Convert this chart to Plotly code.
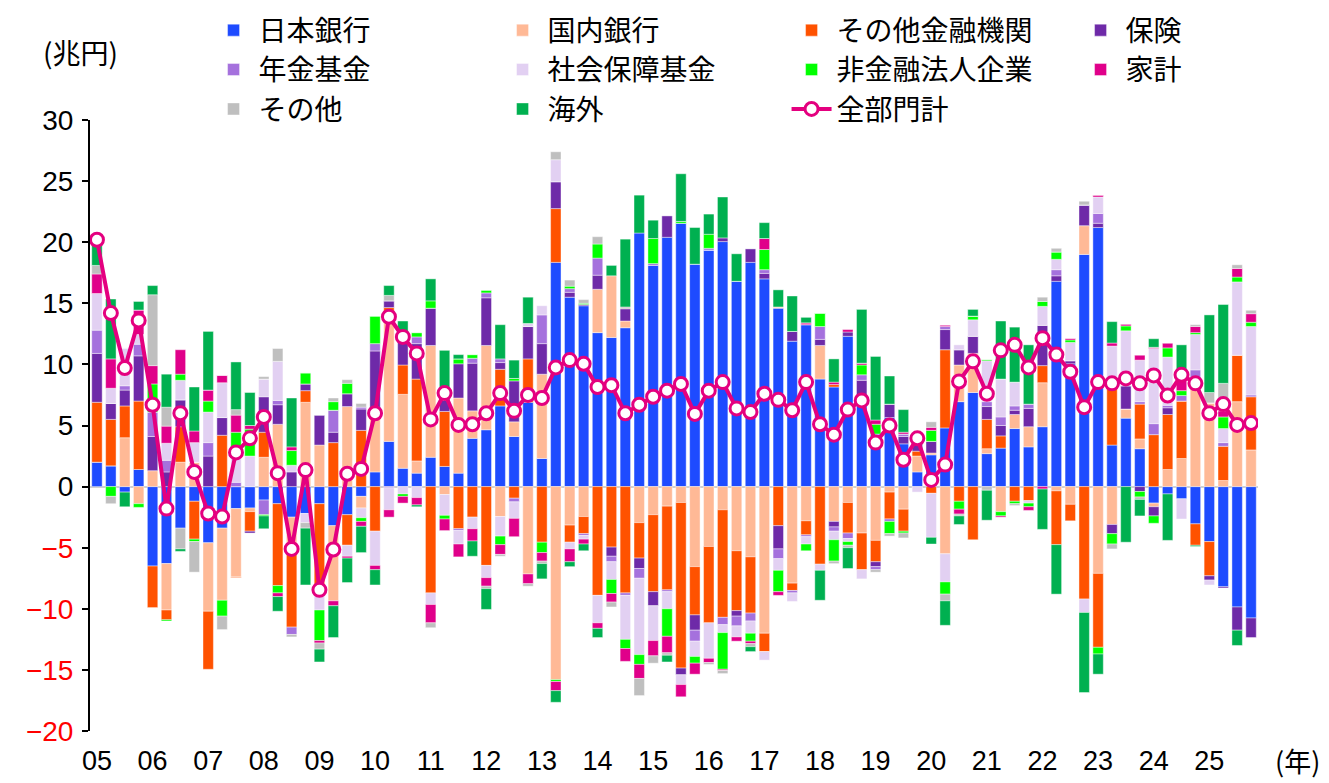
import plotly.graph_objects as go

quarters = list(range(84))  # 2005Q1 .. 2025Q4
year_ticks = list(range(0, 84, 4))
year_labels = [f"{y:02d}" for y in range(5, 26)]

boj = [2.0, 1.7, -0.45, 1.4, -6.5, -6.3, -3.4, -1.2, -4.6, -3.4, -1.8, -1.75, -1.1, -1.4,
       -2.5, -2.2, -1.4, -3.2, -2.3, -0.8, 1.2, 3.7, 1.5, 1.1, 2.4, 1.65, 1.1, 3.95,
       4.65, 6.6, 4.1, 6.9, 2.3, 18.35, 15.5, 14.8, 12.6, 12.2, 13.0, 20.75, 18.1, 20.4,
       21.55, 18.2, 19.35, 20.05, 16.8, 18.35, 17.0, 14.6, 11.9, 13.25, 8.8, 8.15, 12.3, 7.45,
       4.3, 5.65, 3.5, 1.2, 2.6, 4.8, 6.95, 7.7, 2.7, 3.15, 4.75, 3.25, 4.9, 16.8,
       10.05, 19.0, 21.2, 3.4, 5.6, 3.1, -1.35, -0.6, -1.0, -3.05, -4.5, -8.2, -9.85, -10.75]
domestic_banks = [0, 0, 4.0, -1.4, 1.3, -3.8, 2.0, 2.0, -5.6, -5.9, -5.6, -0.3, 2.4, 5.1,
       -2.2, 6.9, 3.4, -6.15, 6.55, -0.95, 4.85, 10.35, 6.05, 1.0, 9.15, -0.65, 6.15, 2.25,
       6.9, -2.45, 1.2, -7.15, 6.9, -15.8, -3.15, -2.45, 3.55, 5.05, 0.55, -2.95, -2.3, -1.6,
       -1.3, -6.55, -4.9, -1.9, -5.25, -5.75, -12.0, 0.1, -7.9, -2.8, 2.75, -2.85, -1.3, -3.8,
       -4.4, -0.45, -1.85, 1.3, 0.15, -5.5, 3.0, 3.2, 0.4, -2.05, 1.15, 1.65, 3.6, -0.35,
       -1.45, 2.35, -7.1, -3.1, 0.75, 0.8, -0.3, 1.4, 2.3, 8.25, 6.85, 0.5, 6.95, 3.0]
other_fin = [4.9, 3.8, 2.6, 5.6, -3.4, -0.8, 2.9, -3.1, -4.75, 4.2, -0.05, -1.6, 2.05, -6.7,
       -6.8, 0.95, -7.5, 3.6, -2.5, 4.6, -3.65, 0.6, 2.4, 6.7, -8.7, 4.5, -3.45, -2.5,
       -6.45, 3.0, -0.95, 3.55, -4.55, 4.4, -1.4, -1.4, -8.9, -4.95, -8.7, -2.9, -6.3, -6.85,
       -13.55, -3.95, -6.25, -8.8, -4.9, -4.6, -1.5, -3.2, -0.6, -1.15, -6.35, 0.2, -2.5, -3.0,
       -1.75, -2.2, -1.8, 0.4, -0.55, 6.4, -1.2, -4.35, 2.4, 1.0, -1.2, -1.15, 1.4, -4.4,
       -1.35, -9.2, -6.05, 5.0, 0, 2.85, 4.25, 4.5, 4.7, -1.75, -2.8, 2.8, 3.8, 4.35]
insurance = [4.0, 1.3, 1.3, 3.7, 2.8, 1.2, 2.2, 0, 2.5, 1.45, 0, -0.15, 2.9, 1.6,
       1.2, 0.55, 2.45, 0.85, 1.05, 1.75, 5.05, 0.55, 2.4, 2.9, 3.05, 0.9, 2.8, 3.9,
       3.9, 0.55, 3.35, 2.65, 2.5, 2.2, 0.4, 0.1, 1.15, -0.75, 1.0, -0.85, -1.15, 1.75,
       -0.55, -1.25, 0, 0.3, -0.45, 1.1, 0.45, -1.9, 0.8, 0, 0.5, -0.45, 0.35, 1.25,
       -0.4, 1.1, 0.6, 1.4, 0.95, 1.65, 1.25, 1.4, 1.05, 0.85, 0.35, 1.5, 3.3, 0.45,
       0.25, 1.7, 0.35, -0.75, 1.9, -0.4, -0.75, 0.55, 0, 0.35, -0.35, -0.1, -1.9, -1.6]
pension = [1.9, 0, 0.35, 0.95, 2.0, 0.95, 0, 0, 1.1, 0, 0.35, 0, -1.2, 0.35,
       -0.6, 0, 0, 1.8, 0, 0.15, 0.6, -0.1, 0, 0.55, 0, 0, -0.15, 0.4,
       0.4, 0.3, -0.3, 0, 2.35, 0, 0.3, -0.15, 1.4, -0.45, -0.2, -0.8, 0.15, -0.15,
       0, -0.9, 0.15, -0.6, -0.8, -0.65, 0.3, -0.8, -0.2, -0.15, 1.05, -0.35, -0.45, 0.45,
       -0.25, -0.2, 0.2, 0, 0, 0.25, 0, 0, 0.4, 0.7, 0.35, 0.35, 0, 0.5,
       0, 0, 0.8, 0, 0, 0.2, 0.9, 0.2, 0.45, 0.95, 0, 0.3, 0, 0.15]
social_security = [3.0, 1.25, 3.1, 0.8, 0, 1.4, 1.6, 1.6, 2.5, 2.85, 2.7, 2.5, 1.45, 3.2,
       0.55, -0.75, -1.2, 0, -0.9, -0.8, -2.8, -1.8, -0.6, -0.9, -0.95, -1.7, -1.1, -0.95,
       -1.0, -1.6, -1.35, 0.25, 0.75, 1.8, -0.55, -0.3, -2.25, -1.45, -3.6, -6.25, -2.85, -1.4,
       -0.8, -1.25, -2.9, -0.65, -0.9, -1.0, -0.7, -0.95, -0.7, -0.6, -0.5, -0.7, -0.25, -0.75,
       0, 0, 0, -0.45, -3.6, -2.3, 0.4, 1.35, 3.35, 3.1, 1.95, -0.2, 1.55, 0.85,
       1.5, -1.1, 1.35, 3.1, 4.5, 3.4, 6.15, 3.95, -1.65, 2.9, -0.4, 1.15, 6.0, 5.6]
nonfin_corp = [0, -0.8, 0, -0.3, 2.3, -0.1, 0.5, -0.2, 0.9, -1.3, 1.4, 2.2, -0.1, -0.6,
       1.2, 0.9, -2.5, 0.7, 0.85, -0.3, 2.25, 0, -0.2, 0.35, 0.6, -0.3, 0.4, 0.3,
       0.2, -0.7, 0.2, 0, -0.85, -0.15, 0.2, 0.1, 1.15, -1.15, -0.75, -0.8, 2.05, -2.25,
       0.15, -0.55, 1.15, -3.0, 0, -0.65, 1.65, -1.75, 0, -0.55, 1.1, -1.75, -0.3, 0.8,
       0.8, -1.0, -0.15, 0, 0.9, -1.0, -0.65, 0.3, 0.1, -0.35, -0.2, -0.3, 0.4, 0.6,
       0.2, 0, -0.55, -0.85, 0.4, -0.45, -0.6, 0.75, 0.4, 0.15, 0, 0.95, 0.4, 0.35]
households = [1.6, 2.4, 0, 2.0, 1.5, 1.4, 2.0, 0.95, 0.9, 0.6, 1.4, 0.3, 0, -0.3,
       0.3, 0, -0.2, -0.4, -0.15, -0.4, -0.35, -0.6, -0.55, -0.6, -1.5, -0.95, -1.05, -1.0,
       -0.7, -0.8, -1.5, -0.8, -0.7, -0.75, -1.05, -0.4, -0.45, -0.7, -1.05, -1.15, -1.25, -1.35,
       -1.0, -0.9, -0.35, -0.1, -0.35, -0.2, 0.9, -0.3, 0, 0.15, 0, 0.2, 0.2, 0.15,
       0.35, 0, 0.15, 0, 0.25, 0.1, -0.4, 0, 0, -0.1, 0, -0.3, -0.2, 0,
       0.15, 0, 0.15, 0.25, 0.15, 0.4, 0.1, 0.4, 0.9, 0.5, 0, 0.5, 0.7, 0.7]
others = [0.7, -0.6, 0, 0, 5.8, 1.55, -1.7, -2.5, 0, -1.1, 0.45, 0, 0.2, 1.05,
       -0.2, -0.45, -0.5, 0.3, 0.3, 0.3, 0, 0.45, 0, 0, -0.4, 0, 0, 0,
       -0.2, -0.15, 0, -0.2, -0.2, 0.65, 0.5, 0.3, 0.6, -0.4, 0.15, -1.4, -0.6, -0.2,
       0, 0, -0.15, -0.25, 0, -0.25, 0, 0, 0, 0, 0, -0.2, -0.2, 0,
       -0.2, -0.2, -0.4, 0, 0.45, -0.55, -0.15, 0, -0.3, 0, -0.15, 0, 0.35, 0.3,
       0, 0.3, 0, -0.4, 0, -0.2, 0, 0, 0, 0.15, 0.85, 2.25, 0.3, 0.3]
overseas = [1.7, 4.9, -1.2, 0.7, 0.75, 2.7, -0.2, 3.6, 4.8, 0, 3.9, 2.7, -1.05, -1.2,
       4.0, -4.65, -1.05, -2.6, -2.0, -2.15, -1.25, 0.8, 1.2, -0.15, 1.8, 4.1, 0.35, -1.25,
       -1.7, 2.8, 1.5, 2.15, -1.25, -0.95, -0.4, -0.55, -0.75, 0.85, 5.55, 3.1, 1.5, -0.55,
       3.9, 3.0, 1.65, 3.35, 2.25, -0.4, 1.3, 1.4, 2.9, 0.45, -2.45, 1.9, -1.7, 4.4,
       5.2, 2.3, 1.85, 0, -0.55, -2.0, -0.7, 0.55, -2.45, 4.75, 4.5, 4.85, -3.3, -4.05,
       0, -6.55, -1.65, 1.75, -4.55, -1.35, 0.7, -3.8, 2.85, -0.1, 6.35, 6.45, -1.25, 0]
total = [20.2, 14.2, 9.7, 13.6, 6.7, -1.8, 6.0, 1.2, -2.2, -2.45, 2.8, 3.95, 5.7, 1.1,
       -5.1, 1.35, -8.45, -5.15, 1.05, 1.45, 6.0, 13.9, 12.25, 10.9, 5.5, 7.65, 5.05, 5.1,
       6.0, 7.65, 6.2, 7.5, 7.25, 9.75, 10.35, 10.05, 8.15, 8.3, 6.0, 6.7, 7.35, 7.85,
       8.4, 5.95, 7.85, 8.55, 6.4, 6.1, 7.6, 7.1, 6.25, 8.55, 5.1, 4.25, 6.3, 7.05,
       3.6, 5.0, 2.2, 3.95, 0.55, 1.8, 8.6, 10.25, 7.6, 11.15, 11.6, 9.75, 12.15, 10.8,
       9.4, 6.5, 8.55, 8.45, 8.85, 8.45, 9.1, 7.45, 9.15, 8.45, 6.0, 6.75, 5.05, 5.2]

series = [
    ("日本銀行", boj, "#1E4BFF"),
    ("国内銀行", domestic_banks, "#FFB996"),
    ("その他金融機関", other_fin, "#FF5200"),
    ("保険", insurance, "#6E2AA8"),
    ("年金基金", pension, "#A571DD"),
    ("社会保障基金", social_security, "#E2D0F2"),
    ("非金融法人企業", nonfin_corp, "#00FF00"),
    ("家計", households, "#E0008A"),
    ("その他", others, "#BFBFBF"),
    ("海外", overseas, "#00B050"),
]

FONT = "Liberation Sans, Arial, Noto Sans CJK JP, sans-serif"
JFONT = "Noto Sans CJK JP, Liberation Sans, sans-serif"

fig = go.Figure()
for name, vals, color in series:
    fig.add_trace(go.Bar(
        x=quarters, y=vals, name=name,
        marker=dict(color=color, line=dict(color="rgba(255,255,255,0.7)", width=0.6)),
    ))

fig.add_trace(go.Scatter(
    x=quarters, y=total, name="全部門計", mode="lines+markers",
    line=dict(color="#E4007F", width=4),
    marker=dict(symbol="circle", size=13, color="white",
                line=dict(color="#E4007F", width=3)),
))

y_ticks = list(range(-20, 31, 5))
y_text = [f"<span style='color:#FF0000'>\u2212{abs(v)}</span>" if v < 0 else str(v)
          for v in y_ticks]

fig.update_layout(
    width=1321, height=775,
    margin=dict(l=82, r=71, t=112, b=52, autoexpand=False),
    barmode="relative", bargap=0.25,
    plot_bgcolor="white", paper_bgcolor="white",
    font=dict(family=FONT, size=28, color="black"),
    legend=dict(orientation="h", x=0.1015, y=1.1875, xanchor="left", yanchor="top",
                entrywidth=234, entrywidthmode="pixels", traceorder="normal",
                font=dict(family=JFONT, size=28), itemwidth=40,
                bgcolor="rgba(0,0,0,0)"),
    xaxis=dict(range=[-0.5, 83.5], tickvals=year_ticks, ticktext=year_labels,
               showline=False, showgrid=False, zeroline=False, ticks="",
               tickfont=dict(size=27), ticklabelstandoff=11),
    yaxis=dict(range=[-20, 30], tickvals=y_ticks, ticktext=y_text,
               showline=True, linecolor="black", linewidth=2, ticks="outside",
               ticklen=6, tickwidth=2, tickcolor="black", showgrid=False,
               zeroline=True, zerolinecolor="#D0D0D0", zerolinewidth=2,
               tickfont=dict(size=28), ticklabelstandoff=3),
    annotations=[
        dict(text="(兆円)", xref="paper", yref="paper", x=-0.008, y=1.111,
             showarrow=False, font=dict(family=JFONT, size=28),
             xanchor="center", yanchor="middle"),
        dict(text="(年)", xref="paper", yref="paper", x=1.034, y=-0.048,
             showarrow=False, font=dict(family=JFONT, size=27),
             xanchor="center", yanchor="middle", borderpad=0),
    ],
)

fig.write_html("out.html")
